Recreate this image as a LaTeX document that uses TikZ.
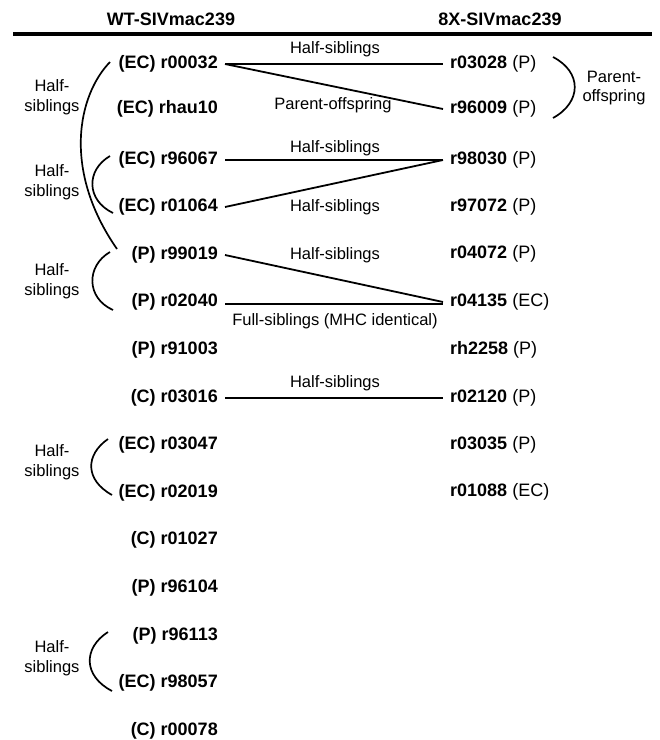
\documentclass[tikz,border=0pt]{standalone}
\usepackage{fontspec}
\setmainfont{Liberation Sans}
\begin{document}
\begin{tikzpicture}[x=1pt,y=-1pt,
  idl/.style={font=\fontsize{18}{20}\selectfont\bfseries, anchor=east, inner xsep=7pt, inner ysep=0pt},
  idr/.style={font=\fontsize{18}{20}\selectfont, anchor=west, inner xsep=7pt, inner ysep=0pt},
  lab/.style={font=\fontsize{16.5}{19}\selectfont, inner sep=0pt},
  blab/.style={font=\fontsize{16.5}{19.5}\selectfont, inner sep=0pt, align=center},
  hd/.style={font=\fontsize{18}{20}\selectfont\bfseries, inner sep=0pt},
  conn/.style={line width=1.8pt},
  brk/.style={line width=1.7pt}]
\useasboundingbox (0,0) rectangle (660,740);

% headers
\node[hd] (h1) at (171,19) {WT-SIVmac239};
\node[hd] (h2) at (500,19) {8X-SIVmac239};
\coordinate (hl) at (13,34);
\coordinate (hr) at (652,34);
\draw[line width=3.2pt] (hl) -- (hr);

% left column
\node[idl] (l1) at (225,64) {(EC) r00032};
\node[idl] (l2) at (225,109) {(EC) rhau10};
\node[idl] (l3) at (225,160) {(EC) r96067};
\node[idl] (l4) at (225,207) {(EC) r01064};
\node[idl] (l5) at (225,255) {(P) r99019};
\node[idl] (l6) at (225,302) {(P) r02040};
\node[idl] (l7) at (225,350) {(P) r91003};
\node[idl] (l8) at (225,398) {(C) r03016};
\node[idl] (l9) at (225,445) {(EC) r03047};
\node[idl] (l10) at (225,493) {(EC) r02019};
\node[idl] (l11) at (225,540) {(C) r01027};
\node[idl] (l12) at (225,588) {(P) r96104};
\node[idl] (l13) at (225,636) {(P) r96113};
\node[idl] (l14) at (225,683) {(EC) r98057};
\node[idl] (l15) at (225,731) {(C) r00078};

% right column
\node[idr] (r1) at (443,64) {\textbf{r03028} (P)};
\node[idr] (r2) at (443,109) {\textbf{r96009} (P)};
\node[idr] (r3) at (443,160) {\textbf{r98030} (P)};
\node[idr] (r4) at (443,207) {\textbf{r97072} (P)};
\node[idr] (r5) at (443,254) {\textbf{r04072} (P)};
\node[idr] (r6) at (443,302) {\textbf{r04135} (EC)};
\node[idr] (r7) at (443,350) {\textbf{rh2258} (P)};
\node[idr] (r8) at (443,398) {\textbf{r02120} (P)};
\node[idr] (r9) at (443,445) {\textbf{r03035} (P)};
\node[idr] (r10) at (443,492) {\textbf{r01088} (EC)};

% connectors
\draw[conn] (l1.east) -- (r1.west);
\draw[conn] (l1.east) -- (r2.west);
\draw[conn] (l3.east) -- (r3.west);
\draw[conn] (l4.east) -- (r3.west);
\draw[conn] (l5.east) -- (r6.west);
\draw[conn] ([yshift=-2pt]l6.east) -- ([yshift=-2pt]r6.west);
\draw[conn] (l8.east) -- (r8.west);

% connector labels
\node[lab] (e1) at (335,49) {Half-siblings};
\node[lab] (e2) at (333,105) {Parent-offspring};
\node[lab] (e3) at (335,148) {Half-siblings};
\node[lab] (e4) at (335,207) {Half-siblings};
\node[lab] (e5) at (335,255) {Half-siblings};
\node[lab] (e6) at (335,321) {Full-siblings (MHC identical)};
\node[lab] (e7) at (335,383) {Half-siblings};

% brackets
\draw[brk] (110,62) .. controls (78,95) and (62,170) .. (117,249);
\draw[brk] (110,156) .. controls (86,170) and (86,200) .. (113,213);
\draw[brk] (110,252) .. controls (86,266) and (86,298) .. (113,310);
\draw[brk] (108,439) .. controls (85,455) and (85,480) .. (112,495);
\draw[brk] (108,632) .. controls (83,648) and (83,676) .. (112,691);
\draw[brk] (553,57) .. controls (582,72) and (582,102) .. (553,118);

% bracket labels
\node[blab] (b1) at (52,97) {Half-\\siblings};
\node[blab] (b2) at (52,182) {Half-\\siblings};
\node[blab] (b3) at (52,281) {Half-\\siblings};
\node[blab] (b4) at (52,462) {Half-\\siblings};
\node[blab] (b5) at (52,658) {Half-\\siblings};
\node[blab] (b6) at (614,88) {Parent-\\offspring};
\end{tikzpicture}
\end{document}
